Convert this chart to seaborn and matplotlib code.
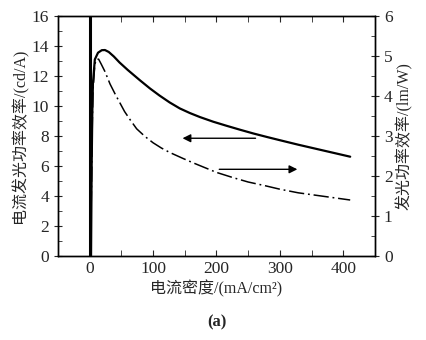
import numpy as np
import pandas as pd
import matplotlib
matplotlib.use('Agg')
import matplotlib.pyplot as plt
import seaborn as sns
from matplotlib.ticker import MultipleLocator

# current efficiency (cd/A), left axis
cur_x = [2, 2.5, 3, 4, 5, 8, 13, 19, 24, 30, 38, 47, 60, 79, 95, 110, 126, 142, 158, 174,
         195, 216, 237, 258, 280, 300, 329, 370, 411]
cur_y = [0, 3, 6, 9.5, 11.5, 13.1, 13.55, 13.72, 13.73, 13.6, 13.3, 12.9, 12.4, 11.72, 11.17,
         10.7, 10.24, 9.84, 9.53, 9.26, 8.95, 8.68, 8.42, 8.17, 7.93, 7.72, 7.42, 7.02, 6.62]

# power efficiency (lm/W), right axis
pow_x = [1, 3, 4, 5, 8, 11, 14, 18, 24, 32, 40, 55, 64, 74, 87, 100, 113, 126, 147, 163,
         200, 226, 250, 276, 300, 329, 370, 411]
pow_y = [0, 2, 3.3, 4.1, 4.8, 4.92, 4.92, 4.8, 4.61, 4.3, 4.05, 3.61, 3.4, 3.18, 2.99, 2.83,
         2.7, 2.59, 2.44, 2.33, 2.09, 1.96, 1.85, 1.76, 1.67, 1.58, 1.49, 1.4]

x_ticks = [0, 100, 200, 300, 400]
left_ticks = [0, 2, 4, 6, 8, 10, 12, 14, 16]
right_ticks = [0, 1, 2, 3, 4, 5, 6]

df_cur = pd.DataFrame({'J': cur_x, 'eff': cur_y})
df_pow = pd.DataFrame({'J': pow_x, 'eff': pow_y})

sns.set_style('ticks')
plt.rcParams['font.family'] = ['Liberation Serif', 'Noto Sans CJK SC', 'DejaVu Sans']

fig = plt.figure(figsize=(4.27, 3.4), dpi=100)
ax = fig.add_axes([0.136, 0.247, 0.742, 0.706])
ax2 = ax.twinx()

ax.axvline(0, color='black', lw=2.2)
sns.lineplot(x='J', y='eff', data=df_cur, ax=ax, color='black', lw=1.6)
sns.lineplot(x='J', y='eff', data=df_pow, ax=ax2, color='black', lw=1.1)
ax2.lines[0].set_dashes([10, 2.5, 1.2, 2.5])

ax.set_xlim(-50, 450)
ax.set_ylim(0, 16)
ax2.set_ylim(0, 6)
ax.set_xticks(x_ticks)
ax.set_yticks(left_ticks)
ax2.set_yticks(right_ticks)
ax.xaxis.set_minor_locator(MultipleLocator(50))
ax.yaxis.set_minor_locator(MultipleLocator(1))
ax2.yaxis.set_minor_locator(MultipleLocator(0.5))

for a in (ax, ax2):
    for sp in a.spines.values():
        sp.set_visible(True)
        sp.set_linewidth(1.0)
        sp.set_color('black')
ax.tick_params(axis='x', which='both', direction='in', top=True, labelsize=12.5, length=4)
ax.tick_params(axis='y', which='major', direction='inout', labelsize=12.5, length=6)
ax.tick_params(axis='y', which='minor', direction='in', length=3)
ax2.tick_params(axis='y', which='major', direction='inout', labelsize=12.5, length=6)
ax2.tick_params(axis='y', which='minor', direction='in', length=3)

ax.set_xlabel('电流密度/(mA/cm²)', fontsize=11.5, labelpad=2)
ax.set_ylabel('电流发光功率效率/(cd/A)', fontsize=11.5, labelpad=2)
ax2.set_ylabel('发光功率效率/(lm/W)', fontsize=11.5, labelpad=2)

# arrows pointing to each curve's axis
ax.annotate('', xy=(142, 7.85), xytext=(266, 7.85),
            arrowprops=dict(arrowstyle='-|>', color='black', lw=1.0, mutation_scale=12))
ax.annotate('', xy=(332, 5.78), xytext=(200, 5.78),
            arrowprops=dict(arrowstyle='-|>', color='black', lw=1.0, mutation_scale=12))

fig.text(0.508, 0.052, '(a)', ha='center', va='center', fontsize=12, fontweight='bold')

fig.savefig('out.png', dpi=100)
